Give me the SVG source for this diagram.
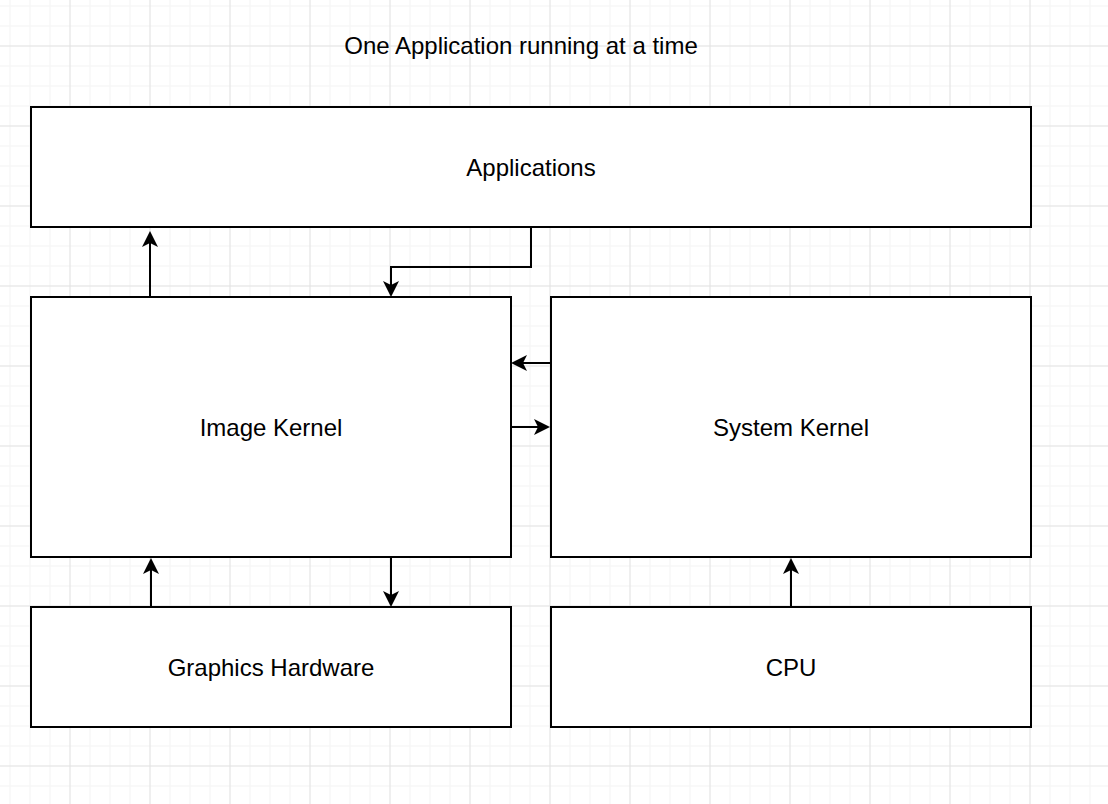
<svg xmlns="http://www.w3.org/2000/svg" width="1108" height="804" viewBox="0 0 1108 804">
  <style>
    .box { fill: #ffffff; stroke: #000000; stroke-width: 2; }
    .lbl { font-family: "Liberation Sans", Arial, Helvetica, sans-serif; font-size: 24px; fill: #000000; text-anchor: middle; }
    .edge { fill: none; stroke: #000000; stroke-width: 2; }
  </style>
  <defs>
    <pattern id="grid" patternUnits="userSpaceOnUse" x="0" y="0" width="80" height="80">
      <rect x="9.5" y="0" width="1" height="80" fill="#f3f3f3"/>
      <rect x="29.5" y="0" width="1" height="80" fill="#f3f3f3"/>
      <rect x="49.5" y="0" width="1" height="80" fill="#f3f3f3"/>
      <rect x="0" y="5.5" width="80" height="1" fill="#f3f3f3"/>
      <rect x="0" y="25.5" width="80" height="1" fill="#f3f3f3"/>
      <rect x="0" y="65.5" width="80" height="1" fill="#f3f3f3"/>
      <rect x="69.5" y="0" width="1" height="80" fill="#e0e0e0"/>
      <rect x="0" y="45.5" width="80" height="1" fill="#e0e0e0"/>
    </pattern>
    <marker id="arrow" markerUnits="userSpaceOnUse" viewBox="0 0 16 16" markerWidth="16" markerHeight="16" refX="6" refY="8" orient="auto">
      <path d="M16,8 L0,0 L4,8 L0,16 Z" fill="#000000"/>
    </marker>
  </defs>
  <rect x="0" y="0" width="1108" height="804" fill="#ffffff"/>
  <rect x="0" y="0" width="1108" height="804" fill="url(#grid)"/>

  <text class="lbl" x="521" y="54">One Application running at a time</text>

  <g id="applications">
    <rect class="box" x="31" y="107" width="1000" height="120"/>
    <text class="lbl" x="531" y="176">Applications</text>
  </g>
  <g id="image-kernel">
    <rect class="box" x="31" y="297" width="480" height="260"/>
    <text class="lbl" x="271" y="436">Image Kernel</text>
  </g>
  <g id="system-kernel">
    <rect class="box" x="551" y="297" width="480" height="260"/>
    <text class="lbl" x="791" y="436">System Kernel</text>
  </g>
  <g id="graphics-hardware">
    <rect class="box" x="31" y="607" width="480" height="120"/>
    <text class="lbl" x="271" y="676">Graphics Hardware</text>
  </g>
  <g id="cpu">
    <rect class="box" x="551" y="607" width="480" height="120"/>
    <text class="lbl" x="791" y="676">CPU</text>
  </g>

  <g id="connectors">
    <path class="edge" d="M150,297 V241" marker-end="url(#arrow)"/>
    <path class="edge" d="M531,227 V267 H391 V287" marker-end="url(#arrow)"/>
    <path class="edge" d="M551,363 H521" marker-end="url(#arrow)"/>
    <path class="edge" d="M511,427 H540" marker-end="url(#arrow)"/>
    <path class="edge" d="M151,607 V568" marker-end="url(#arrow)"/>
    <path class="edge" d="M391,557 V597" marker-end="url(#arrow)"/>
    <path class="edge" d="M791,607 V568" marker-end="url(#arrow)"/>
  </g>
</svg>
